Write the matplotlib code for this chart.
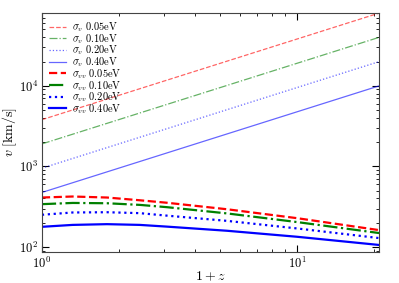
"""Neutrino velocity dispersion vs redshift."""

import matplotlib
matplotlib.use('Agg')
import matplotlib.pyplot as plt

plt.rcParams['mathtext.fontset'] = 'cm'
plt.rcParams['font.family'] = 'serif'
plt.rcParams['font.serif'] = ['cmr10', 'DejaVu Serif']
plt.rcParams['axes.formatter.use_mathtext'] = True

masses = ['0.05', '0.10', '0.20', '0.40']
colors = ['red', 'green', 'blue', 'blue']
styles = ['--', '-.', ':', '-']

# sigma_v: straight power law, values at 1+z = 1 and 1+z = 21
zv_ends = [1.0, 21.0]
sigma_v = [
    [3800, 79800],
    [1900, 39900],
    [950, 19950],
    [475, 9975],
]

# sigma_vv
zvv = [1.0, 1.32, 1.8, 2.42, 3.09, 5.32, 10.0, 21.0]
sigma_vv = [
    [411, 423, 411, 380, 354, 294, 228, 162],
    [340, 352, 349, 333, 312, 261, 204, 149],
    [251, 268, 270, 263, 245, 211, 170, 129],
    [178, 188, 192, 188, 179, 159, 134, 106],
]

fig = plt.figure(figsize=(3.99, 2.83), dpi=100)
ax = fig.add_axes([0.105, 0.110, 0.845, 0.844])

for m, c, ls, vals in zip(masses, colors, styles, sigma_v):
    ax.plot(zv_ends, vals, color=c, ls=ls, lw=0.9, alpha=0.6,
            label=r'$\sigma_v\ \mathrm{%seV}$' % m)

for m, c, ls, vals in zip(masses, colors, styles, sigma_vv):
    ax.plot(zvv, vals, color=c, ls=ls, lw=1.6,
            label=r'$\sigma_{vv}\ \mathrm{%seV}$' % m)

ax.set_xscale('log')
ax.set_yscale('log')
ax.set_xlim(1, 21)
ax.set_ylim(87, 80000)
ax.set_xlabel(r'$1+z$', fontsize=10, labelpad=-1)
ax.set_ylabel(r'$v\ [\mathrm{km/s}]$', fontsize=10, labelpad=0)
ax.tick_params(which='both', direction='in', top=True, right=True,
               labelsize=9, pad=3)
ax.tick_params(which='major', length=5)
ax.tick_params(which='minor', length=2.5)
for sp in ax.spines.values():
    sp.set_color('#444444')

ax.legend(loc='upper left', frameon=False, fontsize=7.5, handlelength=1.6,
          labelspacing=-0.2, borderaxespad=0.2, borderpad=0.5, handletextpad=0.6)

fig.savefig('out.png', dpi=100)
